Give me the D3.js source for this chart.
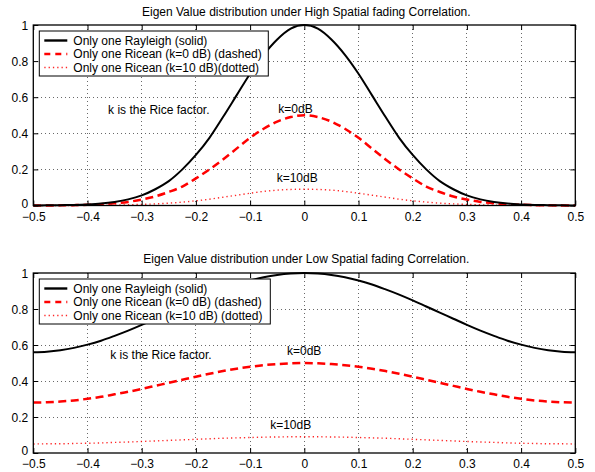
<!DOCTYPE html>
<html>
<head>
<meta charset="utf-8">
<script src="https://cdn.jsdelivr.net/npm/d3@7"></script>
<style>
  html, body { margin: 0; padding: 0; background: #fff; }
  svg { display: block; font-family: "Liberation Sans", Arial, Helvetica, sans-serif; }
</style>
</head>
<body>
<svg id="chart" width="595" height="472"></svg>
<script>
// ---------------- DATA ----------------
const xValues = [-0.5,-0.475,-0.45,-0.425,-0.4,-0.375,-0.35,-0.325,-0.3,-0.275,-0.25,-0.225,-0.2,-0.175,-0.15,-0.125,-0.1,-0.075,-0.05,-0.025,
  0,0.025,0.05,0.075,0.1,0.125,0.15,0.175,0.2,0.225,0.25,0.275,0.3,0.325,0.35,0.375,0.4,0.425,0.45,0.475,0.5];

// High spatial fading correlation (top panel)
const highRayleigh = [0.000,0.001,0.002,0.003,0.006,0.011,0.020,0.034,0.056,0.090,0.135,0.200,0.280,0.375,0.490,0.610,0.730,0.835,0.920,0.980,
  1.000,0.980,0.920,0.835,0.730,0.610,0.490,0.375,0.280,0.200,0.135,0.090,0.056,0.034,0.020,0.011,0.006,0.003,0.002,0.001,0.000];
const highRicean0 = [0.000,0.000,0.001,0.002,0.004,0.007,0.012,0.020,0.033,0.050,0.075,0.105,0.150,0.200,0.255,0.315,0.375,0.425,0.465,0.490,
  0.500,0.490,0.465,0.425,0.375,0.315,0.255,0.200,0.150,0.105,0.075,0.050,0.033,0.020,0.012,0.007,0.004,0.002,0.001,0.000,0.000];
const highRicean10 = [0.000,0.000,0.000,0.000,0.001,0.001,0.002,0.004,0.006,0.009,0.013,0.019,0.026,0.035,0.046,0.057,0.068,0.078,0.085,0.089,
  0.090,0.089,0.085,0.078,0.068,0.057,0.046,0.035,0.026,0.019,0.013,0.009,0.006,0.004,0.002,0.001,0.001,0.000,0.000,0.000,0.000];

// Low spatial fading correlation (bottom panel)
const lowRayleigh = [0.560,0.563,0.571,0.584,0.602,0.624,0.651,0.680,0.712,0.746,0.780,0.814,0.848,0.880,0.909,0.936,0.958,0.976,0.989,0.997,
  1.000,0.997,0.989,0.976,0.958,0.936,0.909,0.880,0.848,0.814,0.780,0.746,0.712,0.680,0.651,0.624,0.602,0.584,0.571,0.563,0.560];
const lowRicean0 = [0.280,0.282,0.286,0.292,0.301,0.312,0.326,0.340,0.356,0.373,0.390,0.407,0.424,0.440,0.455,0.468,0.479,0.488,0.494,0.498,
  0.500,0.498,0.494,0.488,0.479,0.468,0.455,0.440,0.424,0.407,0.390,0.373,0.356,0.340,0.326,0.312,0.301,0.292,0.286,0.282,0.280];
const lowRicean10 = [0.050,0.051,0.051,0.053,0.054,0.056,0.059,0.061,0.064,0.067,0.070,0.073,0.076,0.079,0.082,0.084,0.086,0.088,0.089,0.090,
  0.090,0.090,0.089,0.088,0.086,0.084,0.082,0.079,0.076,0.073,0.070,0.067,0.064,0.061,0.059,0.056,0.054,0.053,0.051,0.051,0.050];

const xTicks = [-0.5,-0.4,-0.3,-0.2,-0.1,0,0.1,0.2,0.3,0.4,0.5];
const yTicks = [0,0.2,0.4,0.6,0.8,1];

const titles = [
  "Eigen Value distribution under High Spatial fading Correlation.",
  "Eigen Value distribution under Low Spatial fading Correlation."
];
const legendLabels = [
  ["Only one Rayleigh (solid)", "Only one Ricean (k=0 dB) (dashed)", "Only one Ricean (k=10 dB)(dotted)"],
  ["Only one Rayleigh (solid)", "Only one Ricean (k=0 dB) (dashed)", "Only one Ricean (k=10 dB) (dotted)"]
];
const annotations = [
  [{text: "k is the Rice factor.", x: -0.362, y: 0.505}, {text: "k=0dB", x: -0.048, y: 0.51}, {text: "k=10dB", x: -0.051, y: 0.128}],
  [{text: "k is the Rice factor.", x: -0.358, y: 0.52}, {text: "k=0dB", x: -0.032, y: 0.542}, {text: "k=10dB", x: -0.063, y: 0.131}]
];

// ---------------- DRAW ----------------
const FS = 12;
const svg = d3.select("#chart");
const left = 33.3, right = 575.3;
const panels = [
  {top: 25, bottom: 205.5, series: [highRayleigh, highRicean0, highRicean10], titleY: 16},
  {top: 273, bottom: 453, series: [lowRayleigh, lowRicean0, lowRicean10], titleY: 263}
];
const styles = [
  {stroke: "#000", width: 2, dash: null, opacity: 1},
  {stroke: "#ff0000", width: 2.5, dash: "8,4.5", opacity: 1},
  {stroke: "#ff0000", width: 1.4, dash: "1.3,3", opacity: 0.85}
];
const fmtX = d => d === 0 ? "0" : (d < 0 ? "\u2212" + Math.abs(d).toString() : d.toString());
const fmtY = d => d.toString();

panels.forEach((p, pi) => {
  const x = d3.scaleLinear().domain([-0.5, 0.5]).range([left, right]);
  const y = d3.scaleLinear().domain([0, 1]).range([p.bottom, p.top]);
  const g = svg.append("g");

  // title
  g.append("text").attr("x", (left + right) / 2 + 2).attr("y", p.titleY)
    .attr("text-anchor", "middle").attr("font-size", FS).text(titles[pi]);

  // grid
  const grid = g.append("g").attr("stroke", "#444").attr("stroke-width", 0.8)
    .attr("stroke-dasharray", "1,3").attr("shape-rendering", "crispEdges");
  xTicks.filter(t => t > -0.5 && t < 0.5).forEach(t => {
    grid.append("line").attr("x1", x(t)).attr("x2", x(t)).attr("y1", p.top).attr("y2", p.bottom);
  });
  yTicks.filter(t => t > 0 && t < 1).forEach(t => {
    grid.append("line").attr("x1", left).attr("x2", right).attr("y1", y(t)).attr("y2", y(t));
  });

  // curves
  const line = d3.line().x((d, i) => x(xValues[i])).y(d => y(d)).curve(d3.curveMonotoneX);
  [2, 1, 0].forEach(si => {
    const st = styles[si];
    const path = g.append("path").datum(p.series[si]).attr("d", line)
      .attr("fill", "none").attr("stroke", st.stroke).attr("stroke-width", st.width)
      .attr("stroke-opacity", st.opacity).attr("stroke-linejoin", "round");
    if (st.dash) path.attr("stroke-dasharray", st.dash);
  });

  // axes (ticks inside on all four sides)
  const axB = d3.axisBottom(x).tickValues(xTicks).tickSizeInner(-5).tickSizeOuter(0).tickPadding(7).tickFormat(fmtX);
  const axT = d3.axisTop(x).tickValues(xTicks).tickSizeInner(-5).tickSizeOuter(0).tickFormat("");
  const axL = d3.axisLeft(y).tickValues(yTicks).tickSizeInner(-5).tickSizeOuter(0).tickPadding(5).tickFormat(fmtY);
  const axR = d3.axisRight(y).tickValues(yTicks).tickSizeInner(-5).tickSizeOuter(0).tickFormat("");
  [[axB, `translate(0,${p.bottom})`, "b"], [axT, `translate(0,${p.top})`, "t"], [axL, `translate(${left},0)`, "l"], [axR, `translate(${right},0)`, "r"]]
    .forEach(([ax, tr, side]) => {
      const a = g.append("g").attr("transform", tr).call(ax);
      a.select(".domain").remove();
      a.selectAll("line").attr("stroke", "#000").attr("stroke-width", 1);
      a.selectAll("text").attr("font-size", FS).attr("fill", "#000")
        .attr("font-family", "'Liberation Sans', Arial, Helvetica, sans-serif");
      if (side === "b") a.selectAll("text").attr("dy", "0.7em");
      if (side === "l") a.selectAll("text").attr("dy", d => d === 0 ? "0.15em" : "0.34em");
    });
  g.append("rect").attr("x", left).attr("y", p.top).attr("width", right - left).attr("height", p.bottom - p.top)
    .attr("fill", "none").attr("stroke", "#000").attr("stroke-width", 1.3);

  // annotations
  annotations[pi].forEach(a => {
    g.append("text").attr("x", x(a.x)).attr("y", y(a.y)).attr("font-size", FS).text(a.text);
  });

  // legend
  const lx = left + 6, ly = p.top + 6;
  const lg = g.append("g").attr("transform", `translate(${lx},${ly})`);
  lg.append("rect").attr("x", 0).attr("y", 0).attr("width", pi === 0 ? 229 : 231).attr("height", 45)
    .attr("fill", "#fff").attr("stroke", "#000").attr("stroke-width", 1);
  legendLabels[pi].forEach((lab, i) => {
    const cy = 9.5 + i * 13.5;
    const st = styles[i];
    const l = lg.append("line").attr("x1", 5).attr("x2", 28).attr("y1", cy).attr("y2", cy)
      .attr("stroke", st.stroke).attr("stroke-width", i === 0 ? 2.4 : st.width).attr("stroke-opacity", st.opacity);
    if (st.dash) l.attr("stroke-dasharray", i === 1 ? "6,5" : st.dash);
    lg.append("text").attr("x", 34).attr("y", cy + 4.3).attr("font-size", FS).text(lab);
  });
});
</script>
</body>
</html>
